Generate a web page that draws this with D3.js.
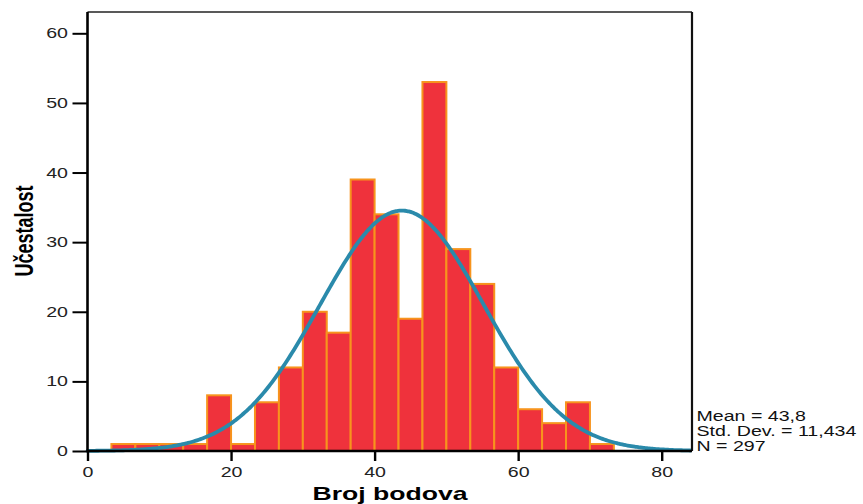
<!DOCTYPE html>
<html>
<head>
<meta charset="utf-8">
<script src="https://cdn.jsdelivr.net/npm/d3@7"></script>
<style>
  html, body { margin: 0; padding: 0; background: #fff; }
  svg { display: block; }
  text { font-family: "Liberation Sans", Arial, sans-serif; }
</style>
</head>
<body>
<svg id="chart" width="863" height="504"></svg>
<script>
// ---- data ----
const binStart = [3.333, 6.667, 10, 13.333, 16.667, 20, 23.333, 26.667, 30, 33.333, 36.667,
                  40, 43.333, 46.667, 50, 53.333, 56.667, 60, 63.333, 66.667, 70];
const binCount = [1, 1, 1, 1, 8, 1, 7, 12, 20, 17, 39, 34, 19, 53, 29, 24, 12, 6, 4, 7, 1];
const binWidth = 3.333;
const xTicks = [0, 20, 40, 60, 80];
const yTicks = [0, 10, 20, 30, 40, 50, 60];
const statMean = 43.8;
const statSD = 11.434;
const statN = 297;
const statLabels = ["Mean = 43,8", "Std. Dev. = 11,434", "N = 297"];
const xTitle = "Broj bodova";
const yTitle = "Učestalost";

// ---- layout ----
const svg = d3.select("#chart");
const pLeft = 87.5, pRight = 692, pTop = 12, pBottom = 451;
const SX = 1.4; // horizontal text stretch

const x = d3.scaleLinear().domain([0, 84.22]).range([pLeft, pRight]);
const y = d3.scaleLinear().domain([0, 63.06]).range([pBottom, pTop]);

// bars
svg.append("g").selectAll("rect")
  .data(binCount.map((c, i) => ({ x0: binStart[i], c })))
  .join("rect")
  .attr("x", d => x(d.x0))
  .attr("y", d => y(d.c))
  .attr("width", d => x(d.x0 + binWidth) - x(d.x0))
  .attr("height", d => y(0) - y(d.c))
  .attr("fill", "#ef323c")
  .attr("stroke", "#f7941d")
  .attr("stroke-width", 2);

// normal curve from the reported statistics
const dens = v => statN * binWidth / (statSD * Math.sqrt(2 * Math.PI)) *
  Math.exp(-0.5 * Math.pow((v - statMean) / statSD, 2));
const curvePts = d3.range(0, 84.22 + 0.001, 0.25).map(v => [v, dens(v)]);
svg.append("path")
  .datum(curvePts)
  .attr("fill", "none")
  .attr("stroke", "#2a8aab")
  .attr("stroke-width", 3.8)
  .attr("stroke-linecap", "round")
  .attr("d", d3.line().x(d => x(d[0])).y(d => y(d[1])).curve(d3.curveBasis));

// frame top & right
svg.append("line").attr("x1", pLeft).attr("x2", pRight).attr("y1", pTop).attr("y2", pTop)
  .attr("stroke", "#222").attr("stroke-width", 1.6);
svg.append("line").attr("x1", pRight).attr("x2", pRight).attr("y1", pTop).attr("y2", pBottom)
  .attr("stroke", "#111").attr("stroke-width", 2.2);

// y axis
const gy = svg.append("g").attr("transform", `translate(${pLeft},0)`)
  .call(d3.axisLeft(y).tickValues(yTicks).tickSize(15).tickSizeOuter(0));
gy.select(".domain").attr("stroke", "#000").attr("stroke-width", 2.6)
  .attr("d", `M0,${pTop}V${pBottom + 1}`);
gy.selectAll(".tick line").attr("stroke", "#000").attr("stroke-width", 2);
gy.selectAll(".tick text")
  .attr("x", 0)
  .attr("transform", `translate(-19.5,0) scale(${SX},1)`)
  .attr("font-size", 14).attr("fill", "#222")
  .attr("font-family", "Liberation Sans, Arial, sans-serif");

// x axis
const gx = svg.append("g").attr("transform", `translate(0,${pBottom})`)
  .call(d3.axisBottom(x).tickValues(xTicks).tickSize(10).tickSizeOuter(0).tickPadding(5.7));
gx.select(".domain").attr("stroke", "#000").attr("stroke-width", 2.4)
  .attr("d", `M${pLeft},0H${pRight}`);
gx.selectAll(".tick line").attr("stroke", "#000").attr("stroke-width", 2.4);
gx.selectAll(".tick text")
  .attr("transform", `scale(${SX},1)`)
  .attr("x", 0)
  .attr("text-anchor", "middle")
  .attr("font-size", 14).attr("fill", "#222")
  .attr("font-family", "Liberation Sans, Arial, sans-serif");

// axis titles
svg.append("text")
  .attr("transform", `translate(390,500) scale(${SX},1)`)
  .attr("text-anchor", "middle")
  .attr("font-size", 19).attr("font-weight", "bold").attr("fill", "#000")
  .text(xTitle);
svg.append("text")
  .attr("transform", `translate(33,231) scale(${SX},1) rotate(-90)`)
  .attr("text-anchor", "middle")
  .attr("font-size", 18).attr("font-weight", "bold").attr("fill", "#000")
  .text(yTitle);

// stats box
const statBase = [421, 435.7, 450.7];
svg.append("g").selectAll("text")
  .data(statLabels)
  .join("text")
  .attr("transform", (d, i) => `translate(696.5,${statBase[i]}) scale(${SX},1)`)
  .attr("font-size", 14).attr("fill", "#111")
  .text(d => d);
</script>
</body>
</html>
